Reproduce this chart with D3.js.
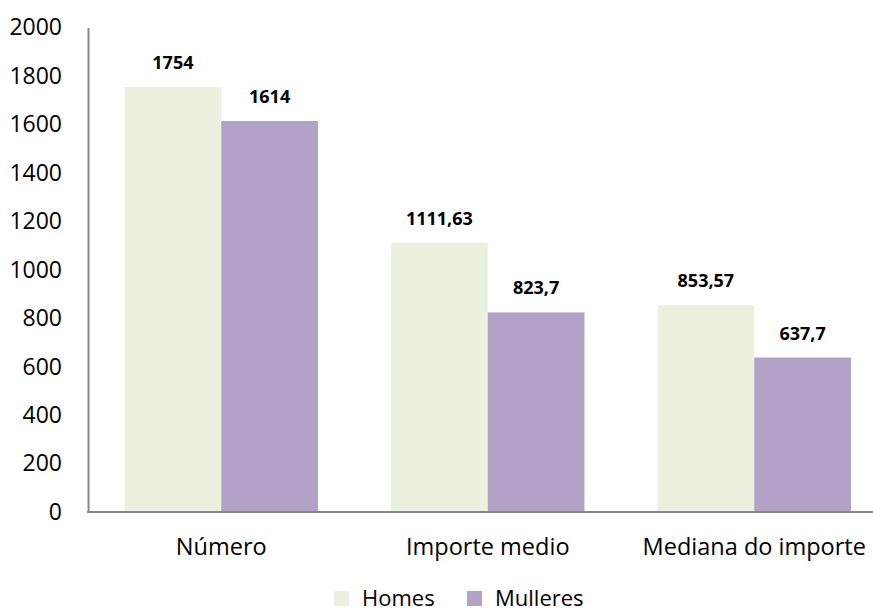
<!DOCTYPE html>
<html>
<head>
<meta charset="utf-8">
<script src="https://cdn.jsdelivr.net/npm/d3@7/dist/d3.min.js"></script>
<style>
  html, body { margin: 0; padding: 0; background: #fff; }
  svg { display: block; font-family: "Open Sans", sans-serif; }
</style>
</head>
<body>
<svg id="chart" width="873" height="612"></svg>
<script>
// Chart data
const categories = ["Número", "Importe medio", "Mediana do importe"];
const seriesNames = ["Homes", "Mulleres"];
const homesValues = [1754, 1111.63, 853.57];
const mulleresValues = [1614, 823.7, 637.7];
const yTicks = [0, 200, 400, 600, 800, 1000, 1200, 1400, 1600, 1800, 2000];
const seriesColors = ["#EBF0DF", "#B2A2C8"];

const seriesValues = [homesValues, mulleresValues];
const rows = categories.map((c, i) => ({
  category: c,
  values: seriesNames.map((s, k) => ({ series: s, value: seriesValues[k][i] }))
}));

const svg = d3.select("#chart");
const fmt = v => String(v).replace(".", ",");

const y = d3.scaleLinear().domain([0, 2000]).range([512, 27.5]);
const x0 = d3.scaleBand().domain(categories).range([88, 887.5])
  .paddingInner(0.274).paddingOuter(0.137);
const x1 = d3.scaleBand().domain(seriesNames).range([0, x0.bandwidth()]).padding(0);
const color = d3.scaleOrdinal().domain(seriesNames).range(seriesColors);

// Bars
const groups = svg.append("g").selectAll("g").data(rows).join("g")
  .attr("transform", d => `translate(${x0(d.category)},0)`);

groups.selectAll("rect").data(d => d.values).join("rect")
  .attr("x", d => x1(d.series))
  .attr("y", d => y(d.value))
  .attr("width", x1.bandwidth())
  .attr("height", d => y(0) - y(d.value))
  .attr("fill", d => color(d.series));

// Value labels
groups.selectAll("text.val").data(d => d.values).join("text")
  .attr("class", "val")
  .attr("x", d => x1(d.series) + x1.bandwidth() / 2)
  .attr("y", d => y(d.value) - 18)
  .attr("text-anchor", "middle")
  .attr("font-size", 18)
  .attr("font-weight", "bold")
  .attr("fill", "#000")
  .text(d => fmt(d.value));

// Y axis
const yAxis = svg.append("g").attr("transform", "translate(88,0)")
  .call(d3.axisLeft(y).tickValues(yTicks).tickSize(0).tickPadding(26).tickFormat(d => d));
yAxis.select(".domain").attr("stroke", "#878787").attr("stroke-width", 2);
yAxis.selectAll("text").attr("font-size", 23).attr("fill", "#000")
  .attr("font-family", "'Open Sans', sans-serif");

// X axis
const xAxis = svg.append("g").attr("transform", "translate(0,512)")
  .call(d3.axisBottom(x0).tickSize(0).tickPadding(0));
xAxis.select(".domain").remove();
xAxis.append("line").attr("x1", 87).attr("x2", 873).attr("y1", 0).attr("y2", 0)
  .attr("stroke", "#878787").attr("stroke-width", 2);
xAxis.selectAll(".tick text").attr("font-size", 23.5).attr("fill", "#000")
  .attr("dy", 0).attr("y", 43)
  .attr("font-family", "'Open Sans', sans-serif");

// Legend
const legendX = [334, 467];
const legend = svg.append("g").selectAll("g").data(seriesNames).join("g")
  .attr("transform", (d, i) => `translate(${legendX[i]},591)`);
legend.append("rect").attr("width", 15).attr("height", 15).attr("fill", d => color(d));
legend.append("text").attr("x", 28).attr("y", 15)
  .attr("font-size", 22).attr("fill", "#000").text(d => d);
</script>
</body>
</html>
